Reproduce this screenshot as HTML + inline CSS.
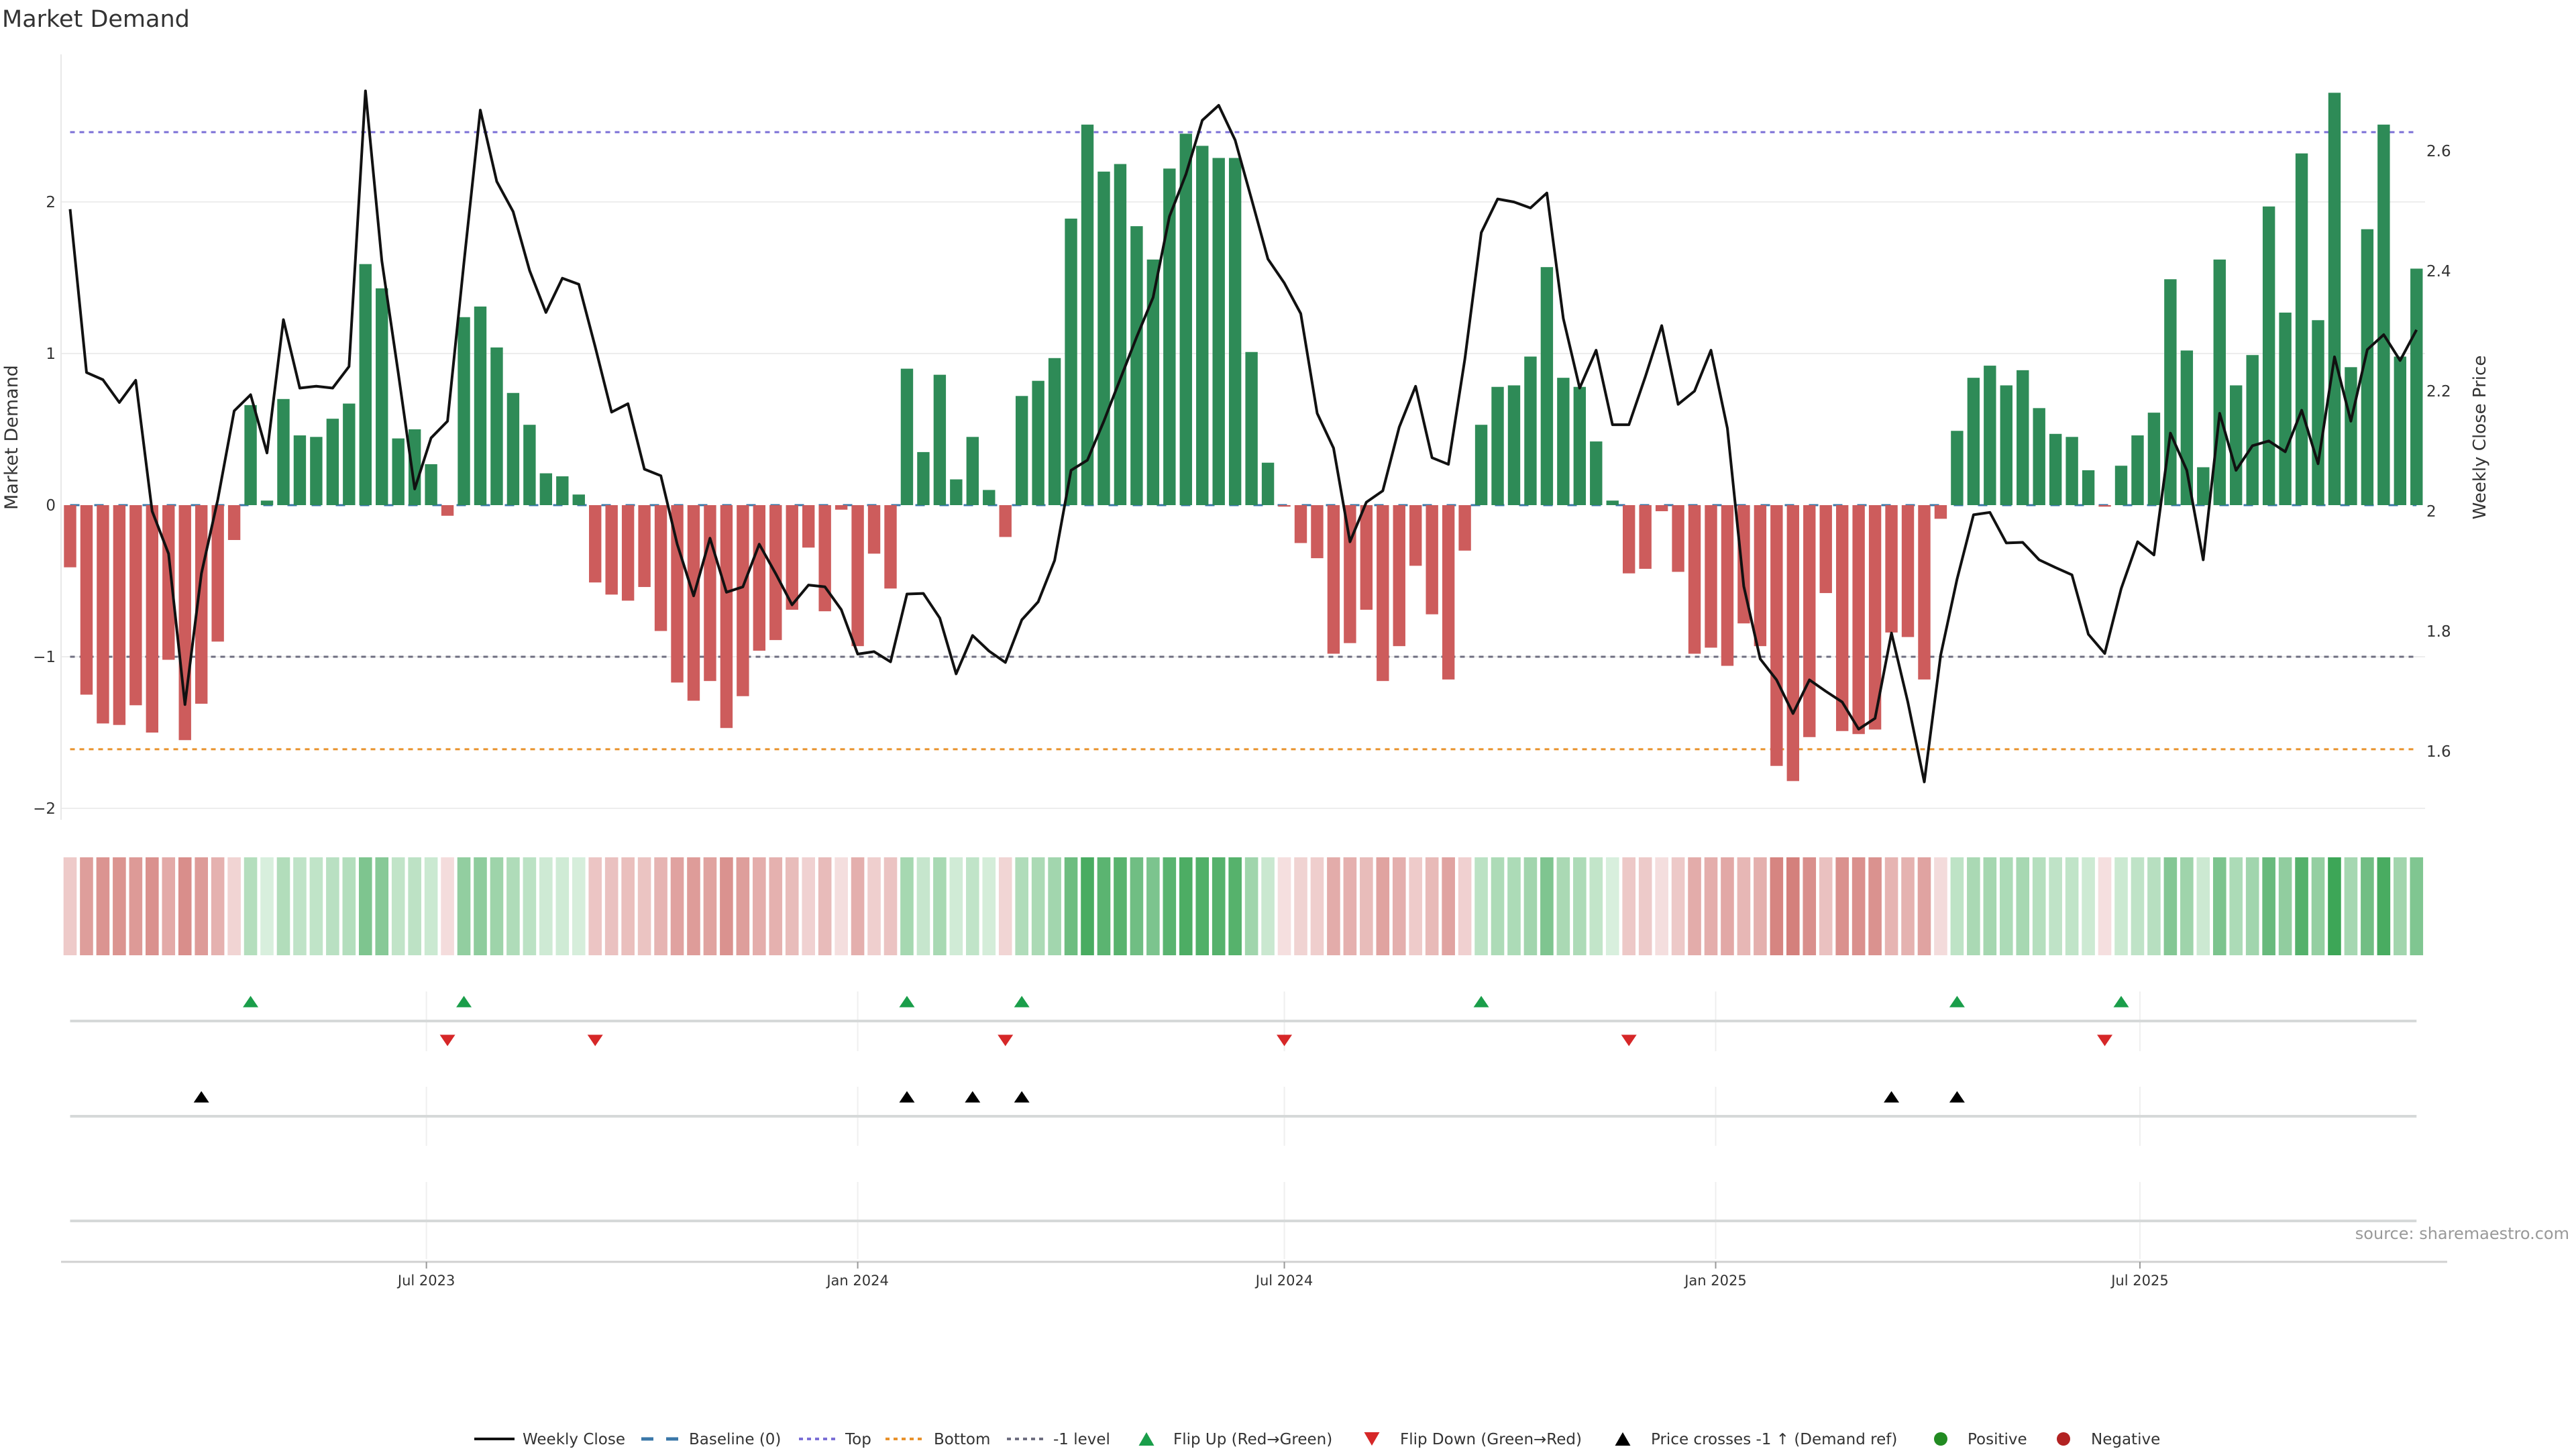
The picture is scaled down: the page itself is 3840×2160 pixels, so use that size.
<!DOCTYPE html>
<html><head><meta charset="utf-8"><style>
html,body{margin:0;padding:0;background:#fff;}
svg{display:block;font-family:"DejaVu Sans","Liberation Sans",sans-serif;}
</style></head>
<body>
<svg id="chart" width="3840" height="2160" viewBox="0 0 3840 2160" xmlns="http://www.w3.org/2000/svg">
<rect x="0" y="0" width="3840" height="2160" fill="#fff"/>
<text x="3" y="40" font-size="35" fill="#333">Market Demand</text>
<text transform="translate(26,652) rotate(-90)" text-anchor="middle" font-size="27" fill="#333">Market Demand</text>
<text transform="translate(3705,652) rotate(-90)" text-anchor="middle" font-size="26" fill="#333">Weekly Close Price</text>
<text x="3830" y="1847" text-anchor="end" font-size="24" fill="#999">source: sharemaestro.com</text>
<g id="grid"></g><g id="refs"></g><g id="bars"></g><g id="priceg"></g><g id="heat"></g><g id="rows"></g><g id="xaxis"></g><g id="legend"></g>
</svg>
<script>
const demand=[-0.41,-1.25,-1.44,-1.45,-1.32,-1.50,-1.02,-1.55,-1.31,-0.90,
-0.23,0.66,0.03,0.70,0.46,0.45,0.57,0.67,1.59,1.43,
0.44,0.50,0.27,-0.07,1.24,1.31,1.04,0.74,0.53,0.21,
0.19,0.07,-0.51,-0.59,-0.63,-0.54,-0.83,-1.17,-1.29,-1.16,
-1.47,-1.26,-0.96,-0.89,-0.69,-0.28,-0.70,-0.03,-0.93,-0.32,
-0.55,0.90,0.35,0.86,0.17,0.45,0.10,-0.21,0.72,0.82,
0.97,1.89,2.51,2.20,2.25,1.84,1.62,2.22,2.45,2.37,
2.29,2.29,1.01,0.28,-0.01,-0.25,-0.35,-0.98,-0.91,-0.69,
-1.16,-0.93,-0.40,-0.72,-1.15,-0.30,0.53,0.78,0.79,0.98,
1.57,0.84,0.78,0.42,0.03,-0.45,-0.42,-0.04,-0.44,-0.98,
-0.94,-1.06,-0.78,-0.93,-1.72,-1.82,-1.53,-0.58,-1.49,-1.51,
-1.48,-0.84,-0.87,-1.15,-0.09,0.49,0.84,0.92,0.79,0.89,
0.64,0.47,0.45,0.23,-0.01,0.26,0.46,0.61,1.49,1.02,
0.25,1.62,0.79,0.99,1.97,1.27,2.32,1.22,2.72,0.91,
1.82,2.51,0.98,1.56];
const price=[2.503,2.231,2.219,2.181,2.218,2.000,1.929,1.678,1.896,2.019,
2.167,2.194,2.097,2.319,2.205,2.208,2.205,2.241,2.700,2.417,
2.230,2.037,2.122,2.150,2.413,2.668,2.549,2.499,2.401,2.331,
2.388,2.378,2.274,2.165,2.179,2.070,2.059,1.945,1.859,1.955,
1.865,1.874,1.945,1.896,1.844,1.877,1.874,1.836,1.762,1.766,
1.749,1.862,1.863,1.822,1.729,1.793,1.767,1.748,1.819,1.849,
1.918,2.068,2.085,2.150,2.220,2.290,2.356,2.491,2.561,2.651,
2.676,2.618,2.520,2.420,2.380,2.329,2.163,2.105,1.949,2.015,
2.034,2.140,2.208,2.089,2.078,2.253,2.464,2.520,2.515,2.505,
2.530,2.321,2.205,2.268,2.144,2.144,2.224,2.309,2.178,2.200,
2.268,2.138,1.875,1.754,1.719,1.663,1.719,1.700,1.682,1.637,
1.655,1.797,1.682,1.549,1.760,1.887,1.994,1.998,1.947,1.948,
1.919,1.906,1.894,1.795,1.763,1.871,1.949,1.927,2.130,2.068,
1.919,2.163,2.068,2.109,2.117,2.099,2.168,2.079,2.257,2.150,
2.269,2.294,2.251,2.302];
const flipUp=[11,24,51,58,86,115,125];
const flipDown=[23,32,57,74,95,124];
const crossUp=[8,51,55,58,111,115];
const leftTicks=[2,1,0,-1,-2];
const rightTicks=[1.6,1.8,2,2.2,2.4,2.6];
const dateTickLabels=["Jul 2023","Jan 2024","Jul 2024","Jan 2025","Jul 2025"];
const dateTickDates=["2023-07-01","2024-01-01","2024-07-01","2025-01-01","2025-07-01"];
const refLevels=[2.46,0,-1,-1.61];

const NS="http://www.w3.org/2000/svg";
const D0=Date.UTC(2023,0,30), STEP=24.46, X0=104.5;
function xi(i){return X0+i*STEP;}
function xd(s){const p=s.split("-");return X0+(Date.UTC(+p[0],+p[1]-1,+p[2])-D0)/(7*864e5)*STEP;}
function yL(v){return 753-v*226;}
function yP(p){return 762-(p-2)*895;}
function mk(tag,attrs,parent){const e=document.createElementNS(NS,tag);for(const k in attrs)e.setAttribute(k,attrs[k]);document.getElementById(parent).appendChild(e);return e;}
function lerp(a,b,t){return a.map((v,k)=>Math.round(v+(b[k]-v)*t));}
const last=demand.length-1;

// grid + left ticks
leftTicks.forEach(v=>{
  if(v!==0){const g=mk('line',{x1:91,x2:3615,y1:yL(v),y2:yL(v),stroke:'#ededed','stroke-width':2},'grid');
  
  }
  const t=mk('text',{x:83,y:yL(v)+8,'text-anchor':'end','font-size':23,fill:'#333'},'grid');
  t.textContent=(v<0?'\u2212':'')+Math.abs(v);
  
  
});
const sp=mk('line',{x1:91,x2:91,y1:81,y2:1222,stroke:'#e8e8e8','stroke-width':2},'grid');


rightTicks.forEach(v=>{
  const t=mk('text',{x:3617,y:yP(v)+8,'font-size':23,fill:'#333'},'grid');
  t.textContent=String(v);
  
  
});

// bars
demand.forEach((v,i)=>{
  const y0=yL(0),y1=yL(v);
  const r=mk('rect',{x:xi(i)-9.2,width:18.4,y:Math.min(y0,y1),height:Math.max(Math.abs(y1-y0),0.5),fill:v>=0?'#2e8b57':'#cd5c5c'},'bars');
  
  
});

// reference lines
const refStyles=[['#7b6fd6','7 7',3,'top-line'],['#3a77a8','14 22',3,'baseline-zero'],['#6e6e80','7 7',3,'minus-one-level'],['#e8922c','7 7',3,'bottom-line']];
refLevels.forEach((v,k)=>{
  const s=refStyles[k];
  const l=mk('line',{x1:xi(0),x2:xi(last),y1:yL(v),y2:yL(v),stroke:s[0],'stroke-dasharray':s[1],'stroke-width':s[2]},'refs');
  
  
});

// price line
const pl=mk('polyline',{points:price.map((p,i)=>xi(i).toFixed(1)+','+yP(p).toFixed(1)).join(' '),fill:'none',stroke:'#111','stroke-width':4,'stroke-linejoin':'round'},'priceg');



// heat strip
const maxPos=Math.max(...demand),maxNeg=Math.max(...demand.map(v=>-v));
demand.forEach((v,i)=>{
  let c;
  if(v>=0)c=lerp([218,240,222],[61,166,87],v/maxPos);else c=lerp([245,224,224],[212,128,124],-v/maxNeg);
  const r=mk('rect',{x:xi(i)-9.8,width:19.6,y:1278,height:146,fill:'rgb('+c.join(',')+')'},'heat');
  
  
});

// lower rows
[[1478,1567],[1620,1708],[1762,1877]].forEach(seg=>{
  dateTickDates.forEach(d=>{
    const g=mk('line',{x1:xd(d),x2:xd(d),y1:seg[0],y2:seg[1],stroke:'#efefef','stroke-width':2},'rows');
    
    
  });
});
[1522,1664,1820].forEach(y=>{
  const l=mk('line',{x1:xi(0),x2:xi(last),y1:y,y2:y,stroke:'#d6d9d9','stroke-width':4},'rows');
  
  
});
function tri(cx,cy,up,fill,name){
  const w=11.5,h=8.5;
  const pts=up?[[cx-w,cy+h],[cx+w,cy+h],[cx,cy-h]]:[[cx-w,cy-h],[cx+w,cy-h],[cx,cy+h]];
  const p=mk('polygon',{points:pts.map(q=>q.join(',')).join(' '),fill:fill},'rows');
  
  
}
flipUp.forEach(i=>tri(xi(i),1493,true,'#1a9e4a','flip-up-marker'));
flipDown.forEach(i=>tri(xi(i),1551,false,'#d62728','flip-down-marker'));
crossUp.forEach(i=>tri(xi(i),1635,true,'#000','price-cross-marker'));

// x axis
const xa=mk('line',{x1:91,x2:3648,y1:1881,y2:1881,stroke:'#d0d0d0','stroke-width':3},'xaxis');


dateTickDates.forEach((d,k)=>{
  const tk=mk('line',{x1:xd(d),x2:xd(d),y1:1881,y2:1891,stroke:'#999','stroke-width':2},'xaxis');
  
  
  const t=mk('text',{x:xd(d),y:1916,'text-anchor':'middle','font-size':21,fill:'#333'},'xaxis');
  t.textContent=dateTickLabels[k];
  
  
});

// legend
const LY=2145;
function ltext(x,s){const t=mk('text',{x:x,y:LY+8,'font-size':23,fill:'#333'},'legend');t.textContent=s;}
function lline(x1,x2,c,dash,w){const l=mk('line',{x1:x1,x2:x2,y1:LY,y2:LY,stroke:c,'stroke-width':w,'stroke-dasharray':dash},'legend');}
lline(707,767,'#111','none',4);ltext(779,'Weekly Close');
lline(956,1011,'#3a77a8','18 19',5);ltext(1027,'Baseline (0)');
lline(1191,1245,'#7b6fd6','6 6',4);ltext(1260,'Top');
lline(1320,1377,'#e8922c','6 6',4);ltext(1392,'Bottom');
lline(1501,1557,'#6e6e80','6 6',4);ltext(1570,'-1 level');
function ltri(cx,up,fill){const w=11.5,h=10;const pts=up?[[cx-w,LY+h],[cx+w,LY+h],[cx,LY-h]]:[[cx-w,LY-h],[cx+w,LY-h],[cx,LY+h]];const p=mk('polygon',{points:pts.map(q=>q.join(',')).join(' '),fill:fill},'legend');}
ltri(1709,true,'#1a9e4a');ltext(1749,'Flip Up (Red\u2192Green)');
ltri(2045,false,'#d62728');ltext(2087,'Flip Down (Green\u2192Red)');
ltri(2419,true,'#000');ltext(2461,'Price crosses -1 \u2191 (Demand ref)');
const c1=mk('circle',{cx:2893,cy:LY,r:10,fill:'#228b22'},'legend');


ltext(2933,'Positive');
const c2=mk('circle',{cx:3076,cy:LY,r:10,fill:'#b22222'},'legend');


ltext(3117,'Negative');
</script>
</body></html>
